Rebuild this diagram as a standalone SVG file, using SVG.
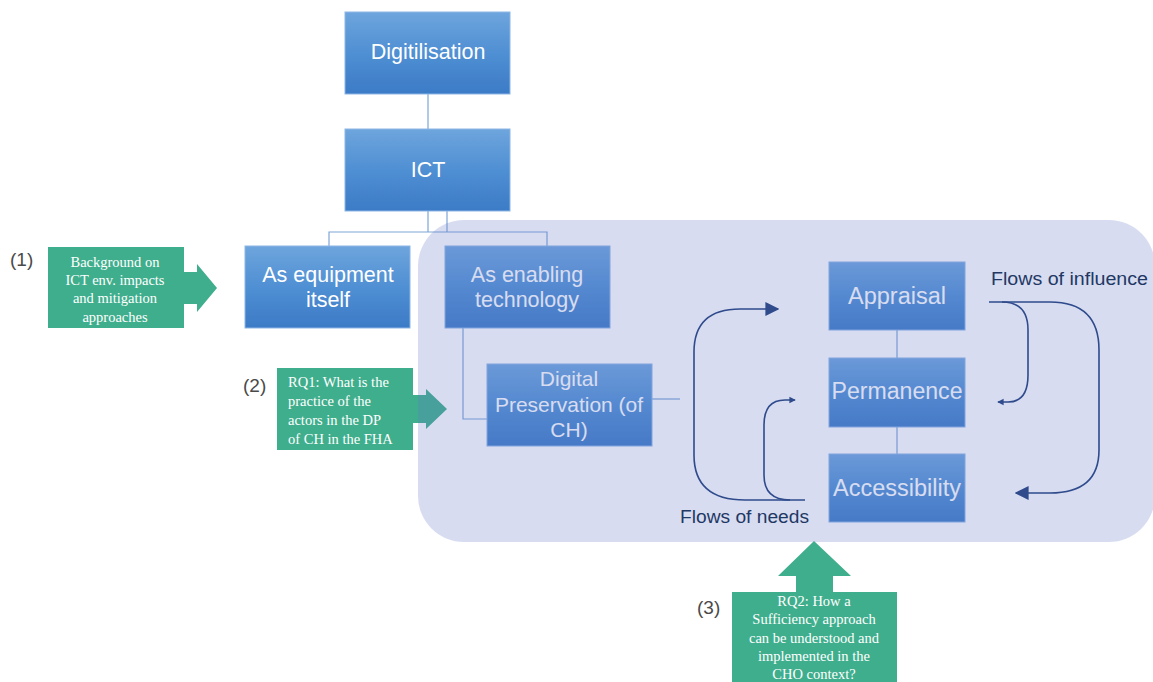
<svg xmlns="http://www.w3.org/2000/svg" width="1153" height="682" viewBox="0 0 1153 682">
  <defs>
    <linearGradient id="blueFill" x1="0" y1="0" x2="0" y2="1">
      <stop offset="0" stop-color="#6ea5dd"/>
      <stop offset="0.5" stop-color="#4f8fd3"/>
      <stop offset="1" stop-color="#3c7bc6"/>
    </linearGradient>
    <marker id="headBigL" viewBox="0 0 10 10" refX="9" refY="5" markerWidth="14" markerHeight="14" orient="auto" markerUnits="userSpaceOnUse">
      <path d="M0,0 L10,5 L0,10 z" fill="#2f4b8c"/>
    </marker>
    <marker id="headSmall" viewBox="0 0 10 10" refX="9" refY="5" markerWidth="8" markerHeight="8" orient="auto" markerUnits="userSpaceOnUse">
      <path d="M2,1 L10,5 L2,9 z" fill="#2f4b8c"/>
    </marker>
  </defs>
  <style>
    .box { fill: url(#blueFill); stroke: #8db6e6; stroke-width: 1; }
    .btxt { font-family: "Liberation Sans", Arial, sans-serif; fill: #ffffff; text-anchor: middle; }
    .link { fill: none; stroke: #7ea6d6; stroke-width: 1.2; }
    .green { fill: #3fae8d; }
    .gtxt { font-family: "Liberation Serif", "Times New Roman", serif; font-size: 14.5px; fill: #ffffff; }
    .num { font-family: "Liberation Sans", Arial, sans-serif; font-size: 19px; fill: #4a4a4a; }
    .flow { fill: none; stroke: #2f4b8c; stroke-width: 1.6; }
    .flowlbl { font-family: "Liberation Sans", Arial, sans-serif; font-size: 18px; fill: #1f3864; }
  </style>

  <rect width="1153" height="682" fill="#ffffff"/>

  <!-- tree connectors -->
  <g id="connectors">
    <path class="link" d="M428,94 V129"/>
    <path class="link" d="M428,211 V232 M447,211 V232 M329,246 V232 H547 V246"/>
    <path class="link" d="M463,328 V419 H487"/>
    <path class="link" d="M652,399 H680"/>
    <path class="link" d="M897,330 V358 M897,427 V454"/>
  </g>

  <!-- blue nodes -->
  <g id="digitilisation">
    <rect class="box" x="345" y="12" width="165" height="82"/>
    <text class="btxt" x="428" y="59" font-size="21.5">Digitilisation</text>
  </g>
  <g id="ict">
    <rect class="box" x="345" y="129" width="165" height="82"/>
    <text class="btxt" x="428" y="177" font-size="21.5">ICT</text>
  </g>
  <g id="equipment">
    <rect class="box" x="245" y="246" width="165" height="82"/>
    <text class="btxt" x="328" y="282" font-size="21.5">As equipment</text>
    <text class="btxt" x="328" y="307" font-size="21.5">itself</text>
  </g>
  <g id="enabling">
    <rect class="box" x="445" y="246" width="165" height="82"/>
    <text class="btxt" x="527" y="282" font-size="21.5">As enabling</text>
    <text class="btxt" x="527" y="307" font-size="21.5">technology</text>
  </g>
  <g id="preservation">
    <rect class="box" x="487" y="364" width="165" height="82"/>
    <text class="btxt" x="569" y="386" font-size="21">Digital</text>
    <text class="btxt" x="569" y="412" font-size="21">Preservation (of</text>
    <text class="btxt" x="569" y="437" font-size="21">CH)</text>
  </g>
  <g id="appraisal">
    <rect class="box" x="829" y="262" width="136" height="68"/>
    <text class="btxt" x="897" y="304" font-size="23.5">Appraisal</text>
  </g>
  <g id="permanence">
    <rect class="box" x="829" y="358" width="136" height="69"/>
    <text class="btxt" x="897" y="399" font-size="23.5" textLength="131" lengthAdjust="spacingAndGlyphs">Permanence</text>
  </g>
  <g id="accessibility">
    <rect class="box" x="829" y="454" width="136" height="68"/>
    <text class="btxt" x="897" y="496" font-size="23.5" textLength="128" lengthAdjust="spacingAndGlyphs">Accessibility</text>
  </g>

  <!-- research question callouts -->
  <g id="rq-background">
    <rect class="green" x="48" y="247" width="136" height="81"/>
    <path class="green" d="M183,272 H197 V264 L217,288 L197,312 V304 H183 z"/>
    <text class="gtxt" x="115" y="267" text-anchor="middle">Background on</text>
    <text class="gtxt" x="115" y="285" text-anchor="middle">ICT env. impacts</text>
    <text class="gtxt" x="115" y="303" text-anchor="middle">and mitigation</text>
    <text class="gtxt" x="115" y="322" text-anchor="middle">approaches</text>
    <text class="num" x="10" y="266">(1)</text>
  </g>
  <g id="rq1">
    <rect class="green" x="277" y="368" width="136" height="82"/>
    <path class="green" d="M412,395 H426 V389 L447,409 L426,429 V423 H412 z"/>
    <text class="gtxt" x="288" y="387">RQ1: What is the</text>
    <text class="gtxt" x="288" y="406">practice of the</text>
    <text class="gtxt" x="288" y="425">actors in the DP</text>
    <text class="gtxt" x="288" y="444">of CH in the FHA</text>
    <text class="num" x="243" y="392">(2)</text>
  </g>
  <g id="rq2">
    <rect class="green" x="732" y="592" width="165" height="95"/>
    <path class="green" d="M796,593 V576 H778 L814,541 L851,576 H833 V593 z"/>
    <text class="gtxt" x="814" y="606" text-anchor="middle">RQ2: How a</text>
    <text class="gtxt" x="814" y="624" text-anchor="middle">Sufficiency approach</text>
    <text class="gtxt" x="814" y="643" text-anchor="middle">can be understood and</text>
    <text class="gtxt" x="814" y="661" text-anchor="middle">implemented in the</text>
    <text class="gtxt" x="814" y="679" text-anchor="middle">CHO context?</text>
    <text class="num" x="697" y="614">(3)</text>
  </g>

  <!-- shaded scope panel -->
  <rect id="scope" x="418" y="220" width="737" height="322" rx="46" fill="#6478c8" fill-opacity="0.26"/>

  <!-- flows -->
  <g id="flows">
    <path class="flow" d="M805,500 H745 Q694,500 694,455 V352 Q694,309 740,309 H778" marker-end="url(#headBigL)"/>
    <path class="flow" d="M790,500 Q764,500 764,475 V425 Q764,400 785,400 H795" marker-end="url(#headSmall)"/>
    <path class="flow" d="M989,302 H1050 Q1099,302 1099,350 V450 Q1099,493 1050,493 H1016" marker-end="url(#headBigL)"/>
    <path class="flow" d="M1002,302 Q1028,302 1028,330 V375 Q1028,402 1008,402 H998" marker-end="url(#headSmall)"/>
    <text class="flowlbl" x="991" y="285" textLength="157" lengthAdjust="spacingAndGlyphs">Flows of influence</text>
    <text class="flowlbl" x="680" y="523" textLength="129" lengthAdjust="spacingAndGlyphs">Flows of needs</text>
  </g>
</svg>
